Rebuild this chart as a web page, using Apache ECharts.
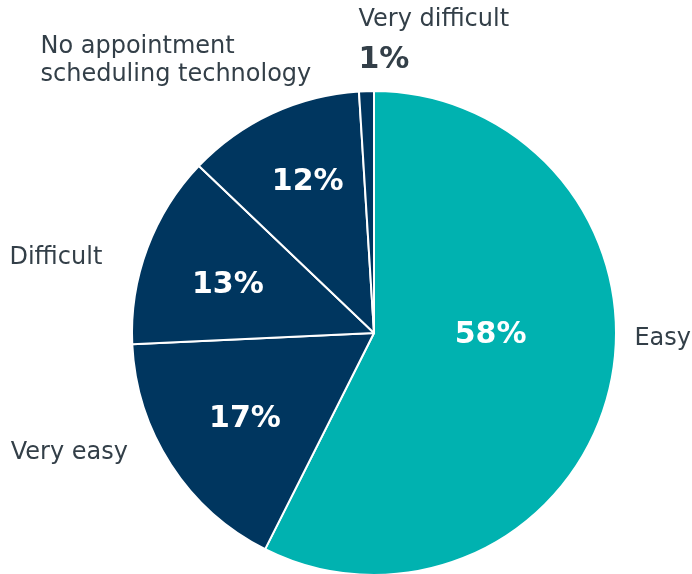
<!DOCTYPE html>
<html>
<head>
<meta charset="utf-8">
<script src="https://cdn.jsdelivr.net/npm/echarts@6/dist/echarts.min.js"></script>
<style>
  html,body{margin:0;padding:0;background:#fff;}
  #chart{width:692px;height:574px;}
</style>
</head>
<body>
<div id="chart"></div>
<script>
// answers, clockwise from 12 o'clock
const categories=['Easy','Very easy','Difficult','No appointment\nscheduling technology','Very difficult'];
const shares=[58,17,13,12,1];
const sliceColors=['#00b2b0','#00365f','#00365f','#00365f','#00365f'];

// label nudges (inside %, outside names)
const innerShift=[[-4,-26],[-25,19],[-30,-4],[-14,-38],[0,0]];
const outerShift=[[20,-50],[-38,-12],[-45,9],[-163,-100],[-3,-45]];
const outerAlign=['left','right','right','left','left'];

const FONT='"DejaVu Sans", Verdana, sans-serif';
const CX=374,CY=333,R=242;

const chart=echarts.init(document.getElementById('chart'));

const pieData=categories.map((c,i)=>({name:c,value:shares[i],itemStyle:{color:sliceColors[i]}}));

chart.setOption({
  animation:false,
  backgroundColor:'#fff',
  series:[{
    type:'pie',
    center:[CX,CY],radius:[0,R],
    startAngle:90,clockwise:true,
    itemStyle:{borderColor:'#fff',borderWidth:2},
    label:{
      position:'inside',
      formatter:p=>p.dataIndex===4?'':p.value+'%',
      color:'#fff',fontFamily:FONT,fontWeight:'bold',fontSize:30
    },
    labelLine:{show:false},
    labelLayout:p=>({dx:innerShift[p.dataIndex][0],dy:innerShift[p.dataIndex][1]}),
    data:pieData
  },{
    type:'pie',
    silent:true,z:3,
    center:[CX,CY],radius:[0,R],
    startAngle:90,clockwise:true,
    data:pieData.map(d=>({name:d.name,value:d.value,itemStyle:{color:'rgba(0,0,0,0)'}})),
    label:{
      position:'outside',
      distance:5,
      overflow:'none',
      formatter:p=>p.dataIndex===4?p.name+'\n{b|'+p.value+'%}':p.name,
      color:'#333f48',fontFamily:FONT,fontSize:24,lineHeight:28,
      rich:{b:{fontFamily:FONT,fontWeight:'bold',fontSize:30,color:'#333f48',lineHeight:52}}
    },
    labelLine:{show:false,length:0,length2:0},
    labelLayout:p=>({
      align:outerAlign[p.dataIndex],
      dx:outerShift[p.dataIndex][0],dy:outerShift[p.dataIndex][1]
    })
  }]
});
</script>
</body>
</html>
